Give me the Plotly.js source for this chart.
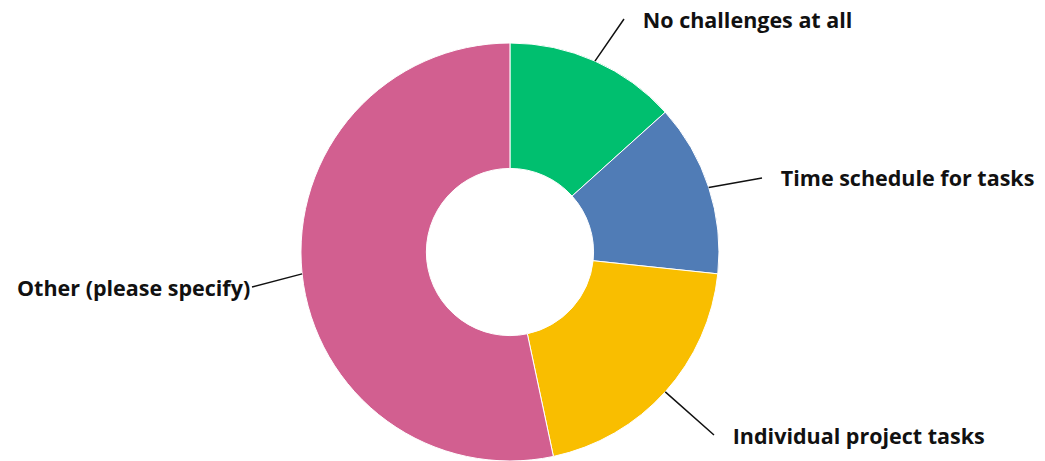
<!DOCTYPE html>
<html>
<head>
<meta charset="utf-8">
<script src="https://cdn.plot.ly/plotly-3.0.1.min.js"></script>
<style>html,body{margin:0;padding:0;background:#fff;}#chart{width:1045px;height:461px;}</style>
</head>
<body>
<div id="chart"></div>
<script>
const categories = ["No challenges at all", "Time schedule for tasks", "Individual project tasks", "Other (please specify)"];
const values = [2, 2, 3, 8];
const colors = ["#00BF6F", "#507CB6", "#F9BE00", "#D25F90"];

const W = 1045, H = 461;
const domX = [0.288, 0.688];
const domY = [0, 0.9067];

// label anchor points (pixels), anchors and leading gap
const labelPos = [
  {x: 624, y: 19, xanchor: "left", gap: "\u00a0\u00a0\u00a0"},
  {x: 762, y: 178, xanchor: "left", gap: "\u00a0\u00a0\u00a0"},
  {x: 714, y: 435, xanchor: "left", gap: "\u00a0\u00a0\u00a0"},
  {x: 252, y: 287, xanchor: "right", gap: ""}
];

const cx = (domX[0] + domX[1]) / 2 * W;
const cy = (1 - (domY[0] + domY[1]) / 2) * H;
const R = Math.min((domX[1] - domX[0]) * W, (domY[1] - domY[0]) * H) / 2;

const total = values.reduce((a, b) => a + b, 0);
let cum = 0;
const annotations = values.map((v, i) => {
  const mid = (cum + v / 2) / total * 2 * Math.PI;
  cum += v;
  const hx = cx + R * Math.sin(mid);
  const hy = cy - R * Math.cos(mid);
  const p = labelPos[i];
  return {
    x: hx / W, y: 1 - hy / H, xref: "paper", yref: "paper",
    ax: p.x - hx, ay: p.y - hy, axref: "pixel", ayref: "pixel",
    text: p.gap + categories[i], showarrow: true, arrowhead: 0, arrowwidth: 1.5, arrowcolor: "#111",
    xanchor: p.xanchor, yanchor: "middle",
    font: {family: "Open Sans, sans-serif", size: 21.5, weight: 700, color: "#111"}
  };
});

Plotly.newPlot("chart", [{
  type: "pie",
  labels: categories,
  values: values,
  hole: 0.4,
  sort: false,
  direction: "clockwise",
  rotation: 0,
  textinfo: "none",
  marker: {colors: colors, line: {color: "#ffffff", width: 1}},
  domain: {x: domX, y: domY},
  hoverinfo: "label+percent"
}], {
  width: W, height: H,
  margin: {l: 0, r: 0, t: 0, b: 0},
  showlegend: false,
  paper_bgcolor: "#fff",
  annotations: annotations
}, {displayModeBar: false, staticPlot: true});
</script>
</body>
</html>
